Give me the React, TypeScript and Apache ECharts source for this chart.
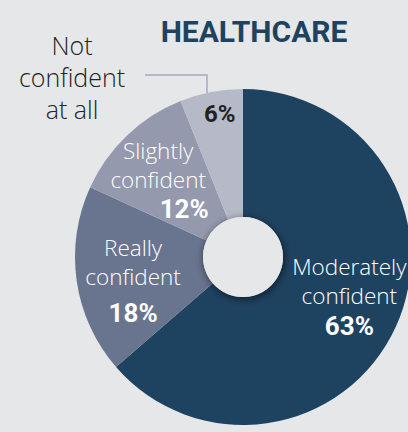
import React, { useEffect, useRef } from "react";
import * as echarts from "echarts";

const categories = ["Moderately confident", "Really confident", "Slightly confident", "Not confident at all"];
const values = [63, 18, 12, 6];
const colors = ["#1e4361", "#69758f", "#9499ad", "#b6bac8"];
const titleText = "HEALTHCARE";

const BG = "#e6e7e8";
const LIGHT = "Open Sans";
const BOLD = "Roboto";

// label fine-tuning offsets (relative to default inside position)
const labelShift: Record<number, [number, number]> = {
  0: [9, -4],
  1: [-4, 9],
  2: [-11, 0],
  3: [-3, -38],
};

export default function App() {
  const ref = useRef<HTMLDivElement>(null);
  useEffect(() => {
    if (!ref.current) return;
    const chart = echarts.init(ref.current, undefined, { renderer: "svg" });
    const data = categories.map((name, i) => {
      let formatter = "";
      if (i === 0) formatter = "{w|Moderately}\n{w|confident}\n{p|" + values[i] + "%}";
      if (i === 1) formatter = "{w|Really}\n{w|confident}\n{gap|}\n{p|" + values[i] + "%}";
      if (i === 2) formatter = "{w|Slightly}\n{w|confident}\n{pr|" + values[i] + "%}";
      if (i === 3) formatter = "{pd|" + values[i] + "%}";
      return {
        name,
        value: values[i],
        itemStyle: { color: colors[i] },
        label: { formatter },
      };
    });
    chart.setOption({
      animation: false,
      backgroundColor: BG,
      title: {
        text: titleText,
        left: 249,
        top: 11,
        textAlign: "center",
        textStyle: { fontFamily: BOLD, fontWeight: "bold", fontSize: 30, color: "#1e4361" },
      },
      graphic: [
        {
          type: "polyline",
          shape: { points: [[145, 75], [207, 75], [207, 93]] },
          style: { stroke: "#b6bac8", lineWidth: 2, fill: null },
        },
        {
          type: "text",
          x: 72,
          y: 77,
          style: {
            text: "Not\nconfident\nat all",
            fontFamily: LIGHT,
            fontWeight: 300,
            fontSize: 25,
            lineHeight: 32,
            fill: "#222222",
            align: "center",
            verticalAlign: "middle",
          },
        },
      ],
      series: [
        {
          type: "pie",
          center: [243, 257],
          radius: [40, 168],
          startAngle: 90,
          clockwise: true,
          silent: true,
          label: {
            show: true,
            position: "inside",
            color: "#ffffff",
            align: "center",
            rich: {
              w: { fontFamily: LIGHT, fontWeight: 300, fontSize: 22.5, lineHeight: 29, color: "#ffffff" },
              gap: { fontSize: 6, lineHeight: 6 },
              p: { fontFamily: BOLD, fontWeight: "bold", fontSize: 26, lineHeight: 32, color: "#ffffff" },
              pr: { fontFamily: BOLD, fontWeight: "bold", fontSize: 26, lineHeight: 30, color: "#ffffff", padding: [0, 0, 0, 52] },
              pd: { fontFamily: BOLD, fontWeight: "bold", fontSize: 24, lineHeight: 30, color: "#222222" },
            },
          },
          labelLine: { show: false },
          labelLayout: (params: any) => {
            const s = labelShift[params.dataIndex] || [0, 0];
            return { dx: s[0], dy: s[1] };
          },
          emphasis: { disabled: true },
          data,
        },
        {
          type: "pie",
          center: [243, 257],
          radius: [0, 40],
          silent: true,
          z: 5,
          label: { show: false },
          labelLine: { show: false },
          emphasis: { disabled: true },
          itemStyle: {
            color: BG,
            shadowBlur: 8,
            shadowColor: "rgba(0,0,0,0.6)",
            shadowOffsetX: 1,
            shadowOffsetY: 2,
          },
          data: [{ value: 1, name: "hole" }],
        },
      ],
    });
    return () => chart.dispose();
  }, []);
  return <div ref={ref} style={{ position: "fixed", left: 0, top: 0, width: 408, height: 432 }} />;
}
